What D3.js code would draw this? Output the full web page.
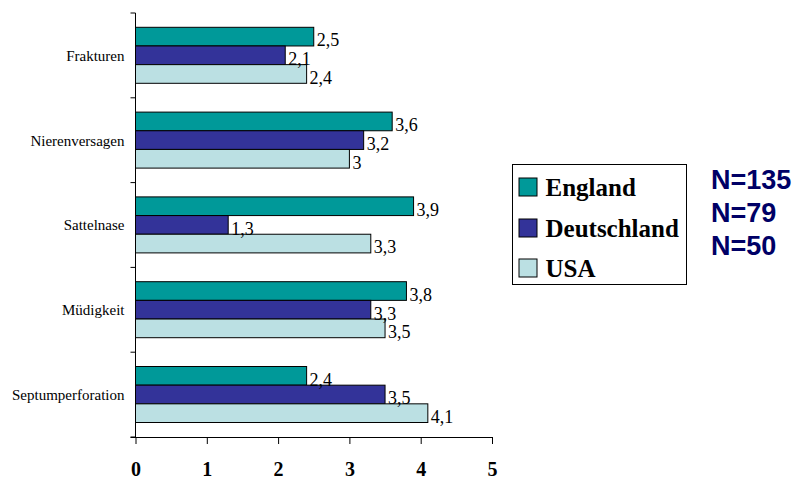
<!DOCTYPE html>
<html>
<head>
<meta charset="utf-8">
<script src="https://cdn.jsdelivr.net/npm/d3@7"></script>
<style>
  html, body { margin: 0; padding: 0; background: #fff; }
  svg { display: block; }
</style>
</head>
<body>
<svg id="chart" width="801" height="481"></svg>
<script>
// ---- Data ----
const categories = ["Frakturen", "Nierenversagen", "Sattelnase", "Müdigkeit", "Septumperforation"];
const seriesNames = ["England", "Deutschland", "USA"];
const england     = [2.5, 3.6, 3.9, 3.8, 2.4];
const deutschland = [2.1, 3.2, 1.3, 3.3, 3.5];
const usa         = [2.4, 3.0, 3.3, 3.5, 4.1];
const xTicks = [0, 1, 2, 3, 4, 5];
const nLabels = ["N=135", "N=79", "N=50"];

const seriesValues = [england, deutschland, usa];
const colors = ["#009999", "#333399", "#BBE0E3"];

const svg = d3.select("#chart");
const serif = "'Liberation Serif','Times New Roman',Times,serif";
const sans = "'Liberation Sans',Arial,Helvetica,sans-serif";

const plot = { left: 135.5, right: 492, top: 13, bottom: 437 };

const x = d3.scaleLinear().domain([0, 5]).range([plot.left, plot.right]);
const y = d3.scaleBand().domain(categories).range([plot.top, plot.bottom]).padding(0);
const yInner = d3.scaleBand().domain(seriesNames).range([14.3, 70.3]).padding(0);

// Bars
const rows = [];
categories.forEach((c, i) => {
  seriesNames.forEach((s, j) => {
    rows.push({ cat: c, series: s, value: seriesValues[j][i], color: colors[j] });
  });
});

const g = svg.append("g");
g.selectAll("rect.bar").data(rows).enter().append("rect")
  .attr("class", "bar")
  .attr("x", x(0))
  .attr("y", d => y(d.cat) + yInner(d.series))
  .attr("width", d => x(d.value) - x(0))
  .attr("height", yInner.bandwidth())
  .attr("fill", d => d.color)
  .attr("stroke", "#000")
  .attr("stroke-width", 1);

// Value labels
g.selectAll("text.val").data(rows).enter().append("text")
  .attr("class", "val")
  .attr("x", d => x(d.value) + 3)
  .attr("y", d => y(d.cat) + yInner(d.series) + yInner.bandwidth() + 0.5)
  .attr("font-family", serif)
  .attr("font-size", 18)
  .attr("fill", "#000")
  .text(d => String(d.value).replace(".", ","));

// Y axis (category axis with ticks at band boundaries)
const yAxisG = svg.append("g").attr("transform", `translate(${plot.left},0)`);
yAxisG.append("line")
  .attr("x1", 0).attr("x2", 0)
  .attr("y1", plot.top).attr("y2", plot.bottom)
  .attr("stroke", "#000").attr("stroke-width", 1);
const boundaries = categories.map(c => y(c)).concat([plot.bottom]);
yAxisG.selectAll("line.tick").data(boundaries).enter().append("line")
  .attr("class", "tick")
  .attr("x1", -5).attr("x2", 0)
  .attr("y1", d => d).attr("y2", d => d)
  .attr("stroke", "#000");
yAxisG.selectAll("text.cat").data(categories).enter().append("text")
  .attr("class", "cat")
  .attr("x", -11)
  .attr("y", d => y(d) + yInner(seriesNames[1]) + yInner.bandwidth() / 2)
  .attr("dy", "0.36em")
  .attr("text-anchor", "end")
  .attr("font-family", serif)
  .attr("font-size", 15)
  .attr("fill", "#000")
  .text(d => d);

// X axis
const xAxis = d3.axisBottom(x).tickValues(xTicks).tickSize(7).tickSizeOuter(0).tickFormat(d3.format("d"));
const xAxisG = svg.append("g").attr("transform", `translate(0,${plot.bottom})`).call(xAxis);
xAxisG.select(".domain").attr("stroke", "#000").attr("d", `M${plot.left - 5},0.5H${plot.right}`);
xAxisG.selectAll(".tick line").attr("stroke", "#000");
xAxisG.selectAll(".tick text")
  .attr("y", 39)
  .attr("dy", 0)
  .attr("font-family", serif)
  .attr("font-weight", "bold")
  .attr("font-size", 20)
  .attr("fill", "#000");

// Legend
const legend = svg.append("g").attr("transform", "translate(512.5,164.5)");
legend.append("rect")
  .attr("x", 0).attr("y", 0).attr("width", 174).attr("height", 120)
  .attr("fill", "#fff").attr("stroke", "#000").attr("stroke-width", 1);
const legItems = legend.selectAll("g.item").data(seriesNames).enter().append("g")
  .attr("class", "item")
  .attr("transform", (d, i) => `translate(0,${[31.5, 72.5, 112.5][i]})`);
legItems.append("rect")
  .attr("x", 6.5).attr("y", -18).attr("width", 18).attr("height", 18)
  .attr("fill", (d, i) => colors[i]).attr("stroke", "#000").attr("stroke-width", 1);
legItems.append("text")
  .attr("x", 33).attr("y", 0)
  .attr("font-family", serif).attr("font-weight", "bold").attr("font-size", 25)
  .attr("fill", "#000")
  .text(d => d);

// N labels
svg.selectAll("text.n").data(nLabels).enter().append("text")
  .attr("class", "n")
  .attr("x", 711)
  .attr("y", (d, i) => [189, 222, 255][i])
  .attr("font-family", sans).attr("font-weight", "bold").attr("font-size", 27)
  .attr("fill", "#000066")
  .text(d => d);
</script>
</body>
</html>
